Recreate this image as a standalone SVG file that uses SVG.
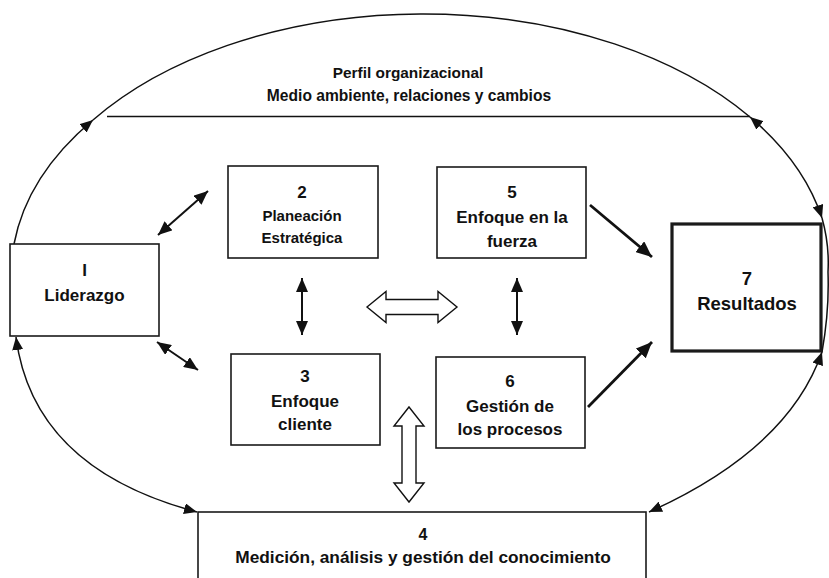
<svg xmlns="http://www.w3.org/2000/svg" width="829" height="578" viewBox="0 0 829 578">
  <style>
    .box { fill: #ffffff; stroke: #1a1a1a; stroke-width: 1.6; }
    .box-strong { fill: #ffffff; stroke: #1a1a1a; stroke-width: 3.2; }
    .t { font-family: "Liberation Sans", Arial, sans-serif; font-weight: bold; fill: #111; text-anchor: middle; }
    .arc { fill: none; stroke: #111; stroke-width: 1.5; }
    .link { fill: none; stroke: #111; stroke-width: 2; }
    .link-strong { fill: none; stroke: #111; stroke-width: 2.8; }
    .hollow { fill: #ffffff; stroke: #111; stroke-width: 1.4; stroke-linejoin: miter; }
  </style>
  <defs>
    <marker id="tip-s" viewBox="0 0 13 11" refX="13" refY="5.5" markerWidth="13" markerHeight="11" markerUnits="userSpaceOnUse" orient="auto-start-reverse">
      <path d="M0,0 L13,5.5 L0,11 z" fill="#111"/>
    </marker>
    <marker id="tip-m" viewBox="0 0 14 12" refX="14" refY="6" markerWidth="14" markerHeight="12" markerUnits="userSpaceOnUse" orient="auto-start-reverse">
      <path d="M0,0 L14,6 L0,12 z" fill="#111"/>
    </marker>
    <marker id="tip-l" viewBox="0 0 16 14" refX="16" refY="7" markerWidth="16" markerHeight="14" markerUnits="userSpaceOnUse" orient="auto-start-reverse">
      <path d="M0,0 L16,7 L0,14 z" fill="#111"/>
    </marker>
  </defs>

  <!-- outer environment loop, split into arc segments between the boxes -->
  <g id="connectors">
    <path class="arc" d="M14,244 A408,257 0 0 1 93,120" marker-end="url(#tip-s)"/>
    <path class="arc" d="M93,120 A408,257 0 0 1 750,117"/>
    <path class="arc" d="M750,117 A408,257 0 0 1 822,218" marker-start="url(#tip-s)" marker-end="url(#tip-s)"/>
    <path class="arc" d="M822,218 A408,257 0 0 1 828,272 C829,300 826,330 822,352"/>
    <path class="arc" d="M822,352 C795,430 720,480 649,512" marker-start="url(#tip-s)" marker-end="url(#tip-s)"/>
    <path class="arc" d="M16,337 C28,430 95,485 197,512" marker-start="url(#tip-s)" marker-end="url(#tip-s)"/>

    <!-- header divider -->
    <line x1="107" y1="116.5" x2="750" y2="116.5" stroke="#111" stroke-width="1.6"/>

    <!-- leadership links -->
    <line class="link" x1="158" y1="235" x2="208" y2="191" marker-start="url(#tip-m)" marker-end="url(#tip-m)"/>
    <line class="link" x1="157" y1="342" x2="198" y2="370" marker-start="url(#tip-m)" marker-end="url(#tip-m)"/>

    <!-- vertical pairs -->
    <line class="link" x1="302" y1="278" x2="302" y2="335" marker-start="url(#tip-m)" marker-end="url(#tip-m)"/>
    <line class="link" x1="517" y1="278" x2="517" y2="335" marker-start="url(#tip-m)" marker-end="url(#tip-m)"/>

    <!-- flows into results -->
    <line class="link-strong" x1="590" y1="205" x2="652" y2="257" marker-end="url(#tip-l)"/>
    <line class="link-strong" x1="588" y1="407" x2="652" y2="342" marker-end="url(#tip-l)"/>

    <!-- hollow block arrows -->
    <polygon class="hollow" points="367,307 386,291.5 386,299.5 438,299.5 438,291.5 457,307 438,322.5 438,314.5 386,314.5 386,322.5"/>
    <polygon class="hollow" points="409,407 424,426 416,426 416,483 424,483 409,502 394,483 402,483 402,426 394,426"/>
  </g>

  <!-- header text inside the loop -->
  <g id="header">
    <text class="t" x="408" y="78" font-size="15.4">Perfil organizacional</text>
    <text class="t" x="409" y="101" font-size="15.6">Medio ambiente, relaciones y cambios</text>
  </g>

  <g id="n1-liderazgo">
    <rect class="box" x="10" y="244" width="149" height="92"/>
    <text class="t" x="84.5" y="276" font-size="17">I</text>
    <text class="t" x="84.5" y="301" font-size="17">Liderazgo</text>
  </g>

  <g id="n2-planeacion">
    <rect class="box" x="228" y="166" width="150" height="92"/>
    <text class="t" x="302" y="198" font-size="17">2</text>
    <text class="t" x="302" y="221" font-size="15">Planeación</text>
    <text class="t" x="302" y="242.5" font-size="15">Estratégica</text>
  </g>

  <g id="n3-cliente">
    <rect class="box" x="231" y="354" width="149" height="91"/>
    <text class="t" x="305" y="382" font-size="17">3</text>
    <text class="t" x="305" y="407" font-size="17">Enfoque</text>
    <text class="t" x="305" y="430" font-size="17">cliente</text>
  </g>

  <g id="n5-fuerza">
    <rect class="box" x="437" y="167" width="149" height="91"/>
    <text class="t" x="512" y="198" font-size="17">5</text>
    <text class="t" x="512" y="223" font-size="17">Enfoque en la</text>
    <text class="t" x="512" y="247" font-size="17">fuerza</text>
  </g>

  <g id="n6-procesos">
    <rect class="box" x="436" y="357" width="149" height="91"/>
    <text class="t" x="510" y="387" font-size="17">6</text>
    <text class="t" x="510" y="412" font-size="17">Gestión de</text>
    <text class="t" x="510" y="435" font-size="17">los procesos</text>
  </g>

  <g id="n7-resultados">
    <rect class="box-strong" x="672" y="224" width="149" height="127"/>
    <text class="t" x="747" y="285" font-size="18.5">7</text>
    <text class="t" x="747" y="310" font-size="18.5">Resultados</text>
  </g>

  <g id="n4-medicion">
    <rect class="box" x="198" y="512" width="448" height="90"/>
    <text class="t" x="423" y="540" font-size="16">4</text>
    <text class="t" x="423" y="563" font-size="17.3">Medición, análisis y gestión del conocimiento</text>
  </g>
</svg>
